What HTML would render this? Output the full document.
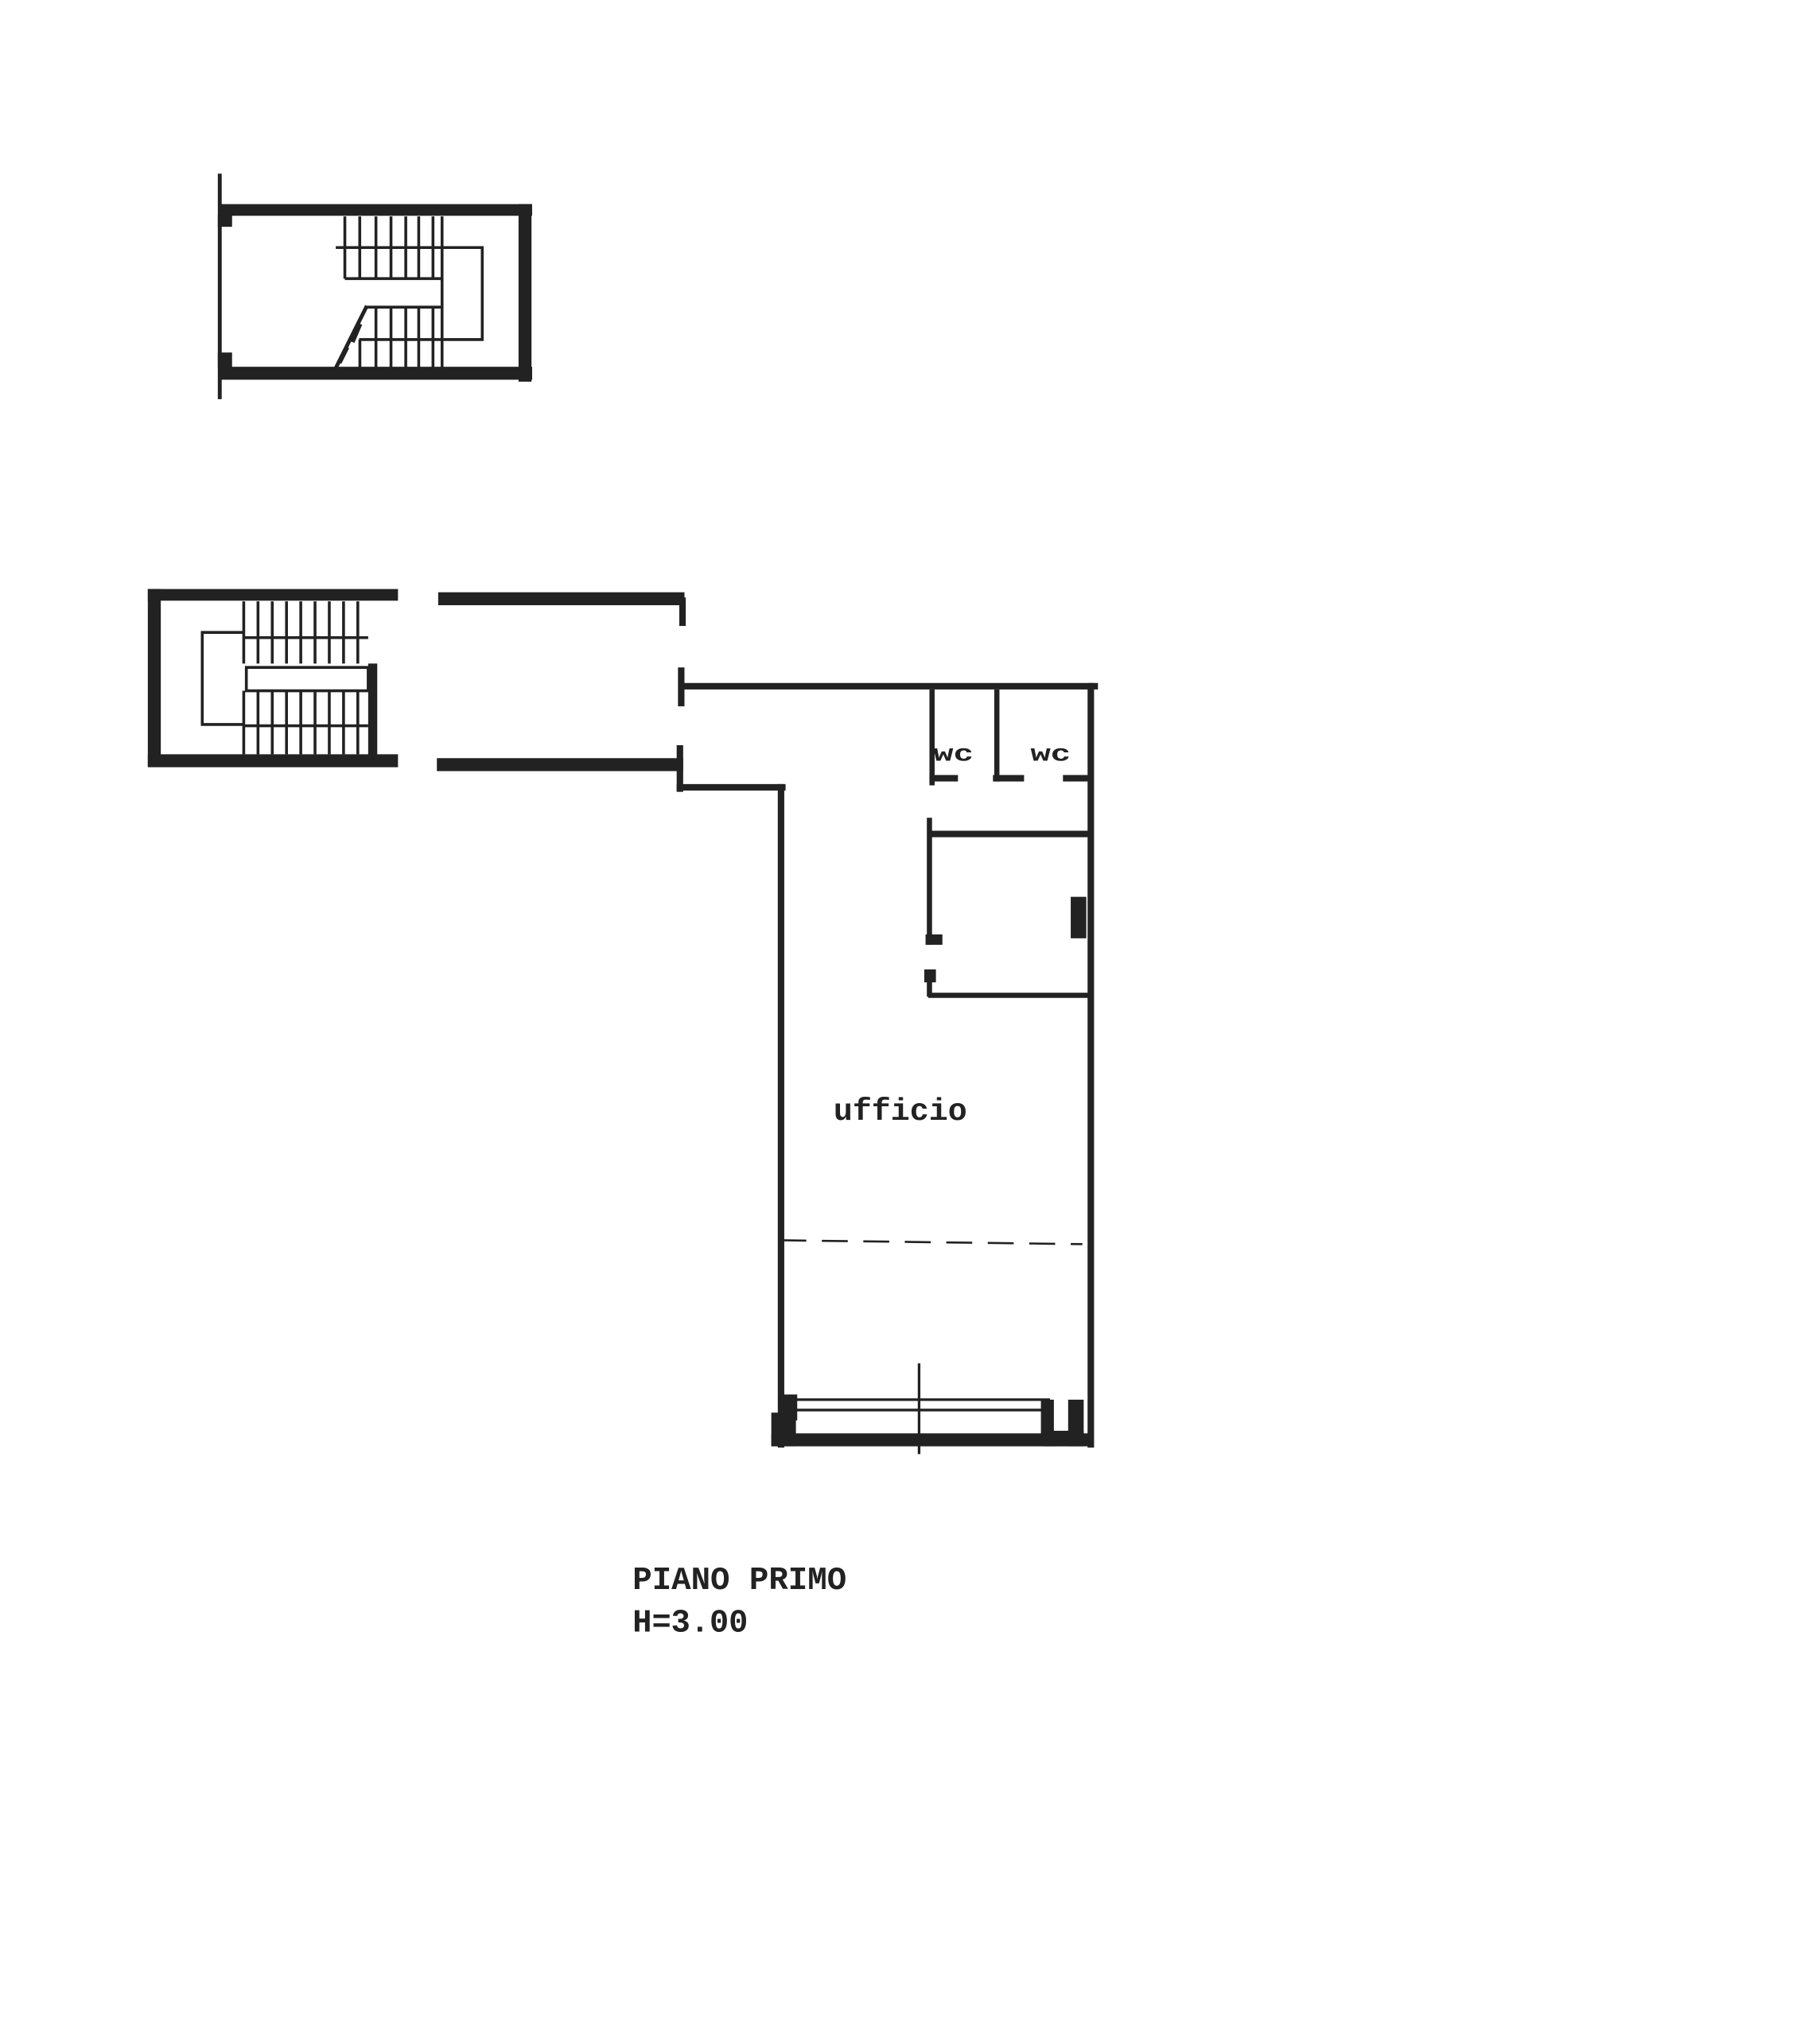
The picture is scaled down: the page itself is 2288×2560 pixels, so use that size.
<!DOCTYPE html>
<html><head><meta charset="utf-8"><style>
html,body{margin:0;padding:0;background:#fff;}
svg{display:block;}
text{font-family:"Liberation Mono",monospace;font-weight:bold;fill:#222;}
</style></head><body>
<svg width="2288" height="2560" viewBox="0 0 1404 1571" xmlns="http://www.w3.org/2000/svg">
<g fill="#222" stroke="none">
<!-- top stair -->
<rect x="168.5" y="157.5" width="242" height="9"/>
<rect x="400" y="157.5" width="10" height="137"/>
<rect x="168.5" y="283" width="242" height="10"/>
<rect x="168" y="134" width="3" height="174"/>
<rect x="168" y="166" width="11" height="9"/>
<rect x="168" y="272" width="11" height="12"/>
<!-- left stair -->
<rect x="114" y="454.5" width="193" height="9"/>
<rect x="114" y="454.5" width="10" height="137"/>
<rect x="114" y="582" width="193" height="10"/>
<rect x="284" y="512" width="7" height="71"/>
<!-- corridor walls -->
<rect x="338" y="457" width="190" height="10"/>
<rect x="337" y="585" width="190" height="10"/>
<rect x="524" y="461" width="5" height="22"/>
<rect x="523" y="515" width="5" height="30"/>
<rect x="522" y="575" width="5" height="36"/>
<!-- office -->
<rect x="524" y="527" width="323" height="5"/>
<rect x="839" y="527" width="5" height="590"/>
<rect x="522" y="605" width="84" height="5"/>
<rect x="600" y="605" width="5" height="512"/>
<!-- wc -->
<rect x="717" y="532" width="4" height="74"/>
<rect x="767" y="532" width="4" height="71"/>
<rect x="717" y="598" width="22" height="5"/>
<rect x="766" y="598" width="24" height="5"/>
<rect x="820" y="598" width="22" height="5"/>
<!-- room -->
<rect x="715" y="631" width="4" height="98"/>
<rect x="717" y="641" width="123" height="5"/>
<rect x="714" y="721" width="13" height="8"/>
<rect x="713" y="748" width="9" height="10"/>
<rect x="715" y="757" width="4" height="12"/>
<rect x="716" y="766" width="124" height="4"/>
<rect x="826" y="692" width="12" height="32"/>
<!-- bottom window -->
<rect x="595" y="1106" width="245" height="10"/>
<rect x="595" y="1090" width="19" height="26"/>
<rect x="603" y="1076" width="12" height="20"/>
<rect x="803" y="1080" width="10" height="36"/>
<rect x="824" y="1080" width="12" height="36"/>
<rect x="806" y="1104" width="30" height="12"/>
</g>
<g stroke="#222" fill="none" stroke-width="2.2">
<!-- top stair lines -->
<path d="M259 191 H372 V262 H277"/>
<path d="M266 215 H341 V237 H283"/>
<path d="M266 167 V215 M277.5 167 V215 M290 167 V215 M301.6 167 V215 M313 167 V215 M323 167 V215 M334 167 V215 M341 167 V215"/>
<path d="M290 237 V285 M301.6 237 V285 M313 237 V285 M323 237 V285 M334 237 V285 M341 237 V285 M277.6 262 V285"/>
<path d="M283 236 L259 284 M278 250 L272 264 M268 268 L262 280" stroke-width="3"/>
<!-- left stair lines -->
<path d="M188 488 H156 V559 H188"/>
<path d="M190 515 H284 V533 H190 Z"/>
<path d="M188 464 V512 M199 464 V512 M210 464 V512 M221 464 V512 M232 464 V512 M243 464 V512 M254 464 V512 M265 464 V512 M276 464 V512 M188 492 H284"/>
<path d="M188 533 V582 M199 533 V582 M210 533 V582 M221 533 V582 M232 533 V582 M243 533 V582 M254 533 V582 M265 533 V582 M276 533 V582 M188 560 H284"/>
<!-- dashed -->
<path d="M602 957 L835 960" stroke-dasharray="20 12" stroke-width="1.6"/>
<!-- window -->
<path d="M612 1080 H810 M612 1088 H810 M612 1113 H810" stroke-width="2"/>
<path d="M709 1052 V1122" stroke-width="2"/>
</g>
<text x="643" y="864" font-size="24" textLength="103" lengthAdjust="spacingAndGlyphs">ufficio</text>
<text x="720" y="587" font-size="18" textLength="31" lengthAdjust="spacingAndGlyphs">wc</text>
<text x="795" y="587" font-size="18" textLength="31" lengthAdjust="spacingAndGlyphs">wc</text>
<text x="488" y="1226" font-size="25" textLength="165" lengthAdjust="spacingAndGlyphs">PIANO PRIMO</text>
<text x="488" y="1259" font-size="25" textLength="89" lengthAdjust="spacingAndGlyphs">H=3.00</text>
</svg>
</body></html>
